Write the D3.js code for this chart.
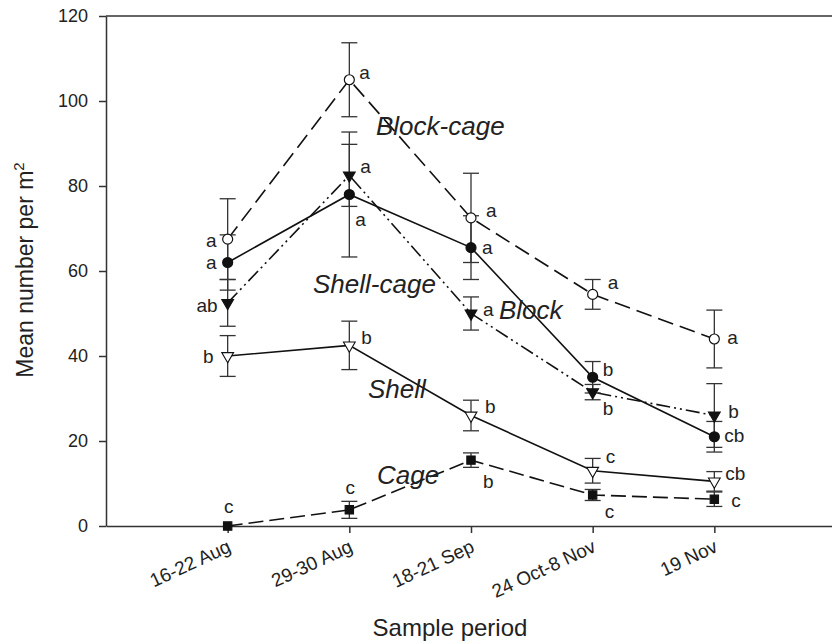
<!DOCTYPE html>
<html>
<head>
<meta charset="utf-8">
<script src="https://cdn.jsdelivr.net/npm/d3@7"></script>
<style>
  body { margin: 0; background: #fff; }
  svg text { font-family: "Liberation Sans", Arial, Helvetica, sans-serif; fill: #222; }
</style>
</head>
<body>
<div id="chart"></div>
<script>
// data
var periods = ["16-22 Aug", "29-30 Aug", "18-21 Sep", "24 Oct-8 Nov", "19 Nov"];
var yTicks = [0, 20, 40, 60, 80, 100, 120];

var blockCageMean = [67.5, 105, 72.5, 54.5, 44];
var blockCageErr = [9.5, 8.7, 10.5, 3.5, 6.8];
var blockCageSig = ["a", "a", "a", "a", "a"];

var blockMean = [62, 78, 65.5, 35, 21];
var blockErr = [6.5, 14.7, 7.5, 3.7, 3.6];
var blockSig = ["a", "a", "a", "b", "cb"];

var shellCageMean = [52.5, 82.5, 50, 31.5, 26];
var shellCageErr = [5.5, 7.3, 3.9, 1.8, 7.5];
var shellCageSig = ["ab", "a", "a", "b", "b"];

var shellMean = [40, 42.5, 26, 13, 10.5];
var shellErr = [4.8, 5.7, 3.6, 2.9, 2.3];
var shellSig = ["b", "b", "b", "c", "cb"];

var cageMean = [0, 3.8, 15.5, 7.3, 6.3];
var cageErr = [0, 2, 1.7, 1.3, 1.7];
var cageSig = ["c", "c", "b", "c", "c"];

var width = 832, height = 644;

var x = d3.scaleLinear().domain([0, 6]).range([106, 836]);
var y = d3.scaleLinear().domain([0, 120]).range([526, 16]);

var svg = d3.select("#chart").append("svg")
    .attr("width", width)
    .attr("height", height);

// series styling + label placement (offsets in px from the point)
var series = [
  { name: "Block-cage", mean: blockCageMean, err: blockCageErr, sig: blockCageSig,
    dash: "16,7", marker: "circle", fill: "#fff",
    nameAt: [376, 135],
    lab: [["end", -11, 2], ["start", 10, -6], ["start", 15, -7], ["start", 15, -11], ["start", 13, -1]] },
  { name: "Block", mean: blockMean, err: blockErr, sig: blockSig,
    dash: null, marker: "circle", fill: "#111",
    nameAt: [499, 319],
    lab: [["end", -11, 1], ["start", 6, 26], ["start", 11, 1], ["start", 10, -7], ["start", 10, 0]] },
  { name: "Shell-cage", mean: shellCageMean, err: shellCageErr, sig: shellCageSig,
    dash: "14,4,2,4,2,4", marker: "triangle", fill: "#111",
    nameAt: [313, 293],
    lab: [["end", -10, 3], ["start", 11, -8], ["start", 12, -3], ["start", 10, 17], ["start", 14, -3]] },
  { name: "Shell", mean: shellMean, err: shellErr, sig: shellSig,
    dash: null, marker: "triangle", fill: "#fff",
    nameAt: [368, 398],
    lab: [["end", -14, 1], ["start", 12, -7], ["start", 14, -8], ["start", 13, -13], ["start", 11, -7]] },
  { name: "Cage", mean: cageMean, err: cageErr, sig: cageSig,
    dash: "15,6", marker: "square", fill: "#111",
    nameAt: [377, 484],
    lab: [["middle", 1, -19], ["middle", 1, -22], ["start", 12, 22], ["start", 12, 17], ["start", 17, 2]] }
];

// axes
var yAxis = d3.axisLeft(y).tickValues(yTicks).tickSize(7).tickPadding(11).tickSizeOuter(0);
var xAxis = d3.axisBottom(x).tickValues([1, 2, 3, 4, 5])
    .tickFormat(function(d) { return periods[d - 1]; })
    .tickSize(7).tickSizeOuter(0);

var gy = svg.append("g").attr("transform", "translate(106,0)").call(yAxis);
gy.selectAll("text").style("font-size", "18px");

var gx = svg.append("g").attr("transform", "translate(0,526)").call(xAxis);
gx.selectAll("text")
    .style("font-size", "19px")
    .attr("text-anchor", "end")
    .attr("y", 0).attr("dy", 0)
    .attr("transform", "translate(4,25) rotate(-25)");

svg.selectAll(".domain, .tick line").attr("stroke", "#333").attr("stroke-width", 1.5);

// top frame line
svg.append("line")
    .attr("x1", x(0)).attr("x2", x(6))
    .attr("y1", y(120)).attr("y2", y(120))
    .attr("stroke", "#333").attr("stroke-width", 1.5);

// axis titles
svg.append("text")
    .attr("transform", "translate(33,270) rotate(-90)")
    .attr("text-anchor", "middle")
    .style("font-size", "23px")
    .html('Mean number per m<tspan dy="-9" font-size="15px">2</tspan>');

svg.append("text")
    .attr("x", 450).attr("y", 636)
    .attr("text-anchor", "middle")
    .style("font-size", "24px")
    .text("Sample period");

var line = d3.line()
    .x(function(d, i) { return x(i + 1); })
    .y(function(d) { return y(d); });

// lines
series.forEach(function(s) {
  svg.append("path")
      .attr("d", line(s.mean))
      .attr("fill", "none")
      .attr("stroke", "#111")
      .attr("stroke-width", 1.6)
      .attr("stroke-dasharray", s.dash);
});

// error bars
series.forEach(function(s) {
  s.mean.forEach(function(m, i) {
    if (!s.err[i]) return;
    var cx = x(i + 1), top = y(m + s.err[i]), bot = y(m - s.err[i]);
    var g = svg.append("g").attr("stroke", "#333").attr("stroke-width", 1.3);
    g.append("line").attr("x1", cx).attr("x2", cx).attr("y1", top).attr("y2", bot);
    g.append("line").attr("x1", cx - 8).attr("x2", cx + 8).attr("y1", top).attr("y2", top);
    g.append("line").attr("x1", cx - 8).attr("x2", cx + 8).attr("y1", bot).attr("y2", bot);
  });
});

// markers
series.forEach(function(s) {
  s.mean.forEach(function(m, i) {
    var cx = x(i + 1), cy = y(m);
    if (s.marker === "circle") {
      svg.append("circle").attr("cx", cx).attr("cy", cy).attr("r", 5)
          .attr("fill", s.fill).attr("stroke", "#111").attr("stroke-width", 1.2);
    } else {
      var type = s.marker === "square" ? d3.symbolSquare : d3.symbolTriangle;
      var rot = s.marker === "triangle" ? " rotate(180)" : "";
      svg.append("path")
          .attr("d", d3.symbol().type(type).size(s.marker === "square" ? 70 : 60)())
          .attr("transform", "translate(" + cx + "," + cy + ")" + rot)
          .attr("fill", s.fill).attr("stroke", "#111").attr("stroke-width", 1.1);
    }
  });
});

// significance letters
series.forEach(function(s) {
  s.sig.forEach(function(t, i) {
    var p = s.lab[i];
    svg.append("text")
        .attr("x", x(i + 1) + p[1])
        .attr("y", y(s.mean[i]) + p[2])
        .attr("dy", "0.3em")
        .attr("text-anchor", p[0])
        .style("font-size", "19px")
        .text(t);
  });
});

// series names
series.forEach(function(s) {
  svg.append("text")
      .attr("x", s.nameAt[0]).attr("y", s.nameAt[1])
      .style("font-size", "26px")
      .style("font-style", "italic")
      .text(s.name);
});
</script>
</body>
</html>
